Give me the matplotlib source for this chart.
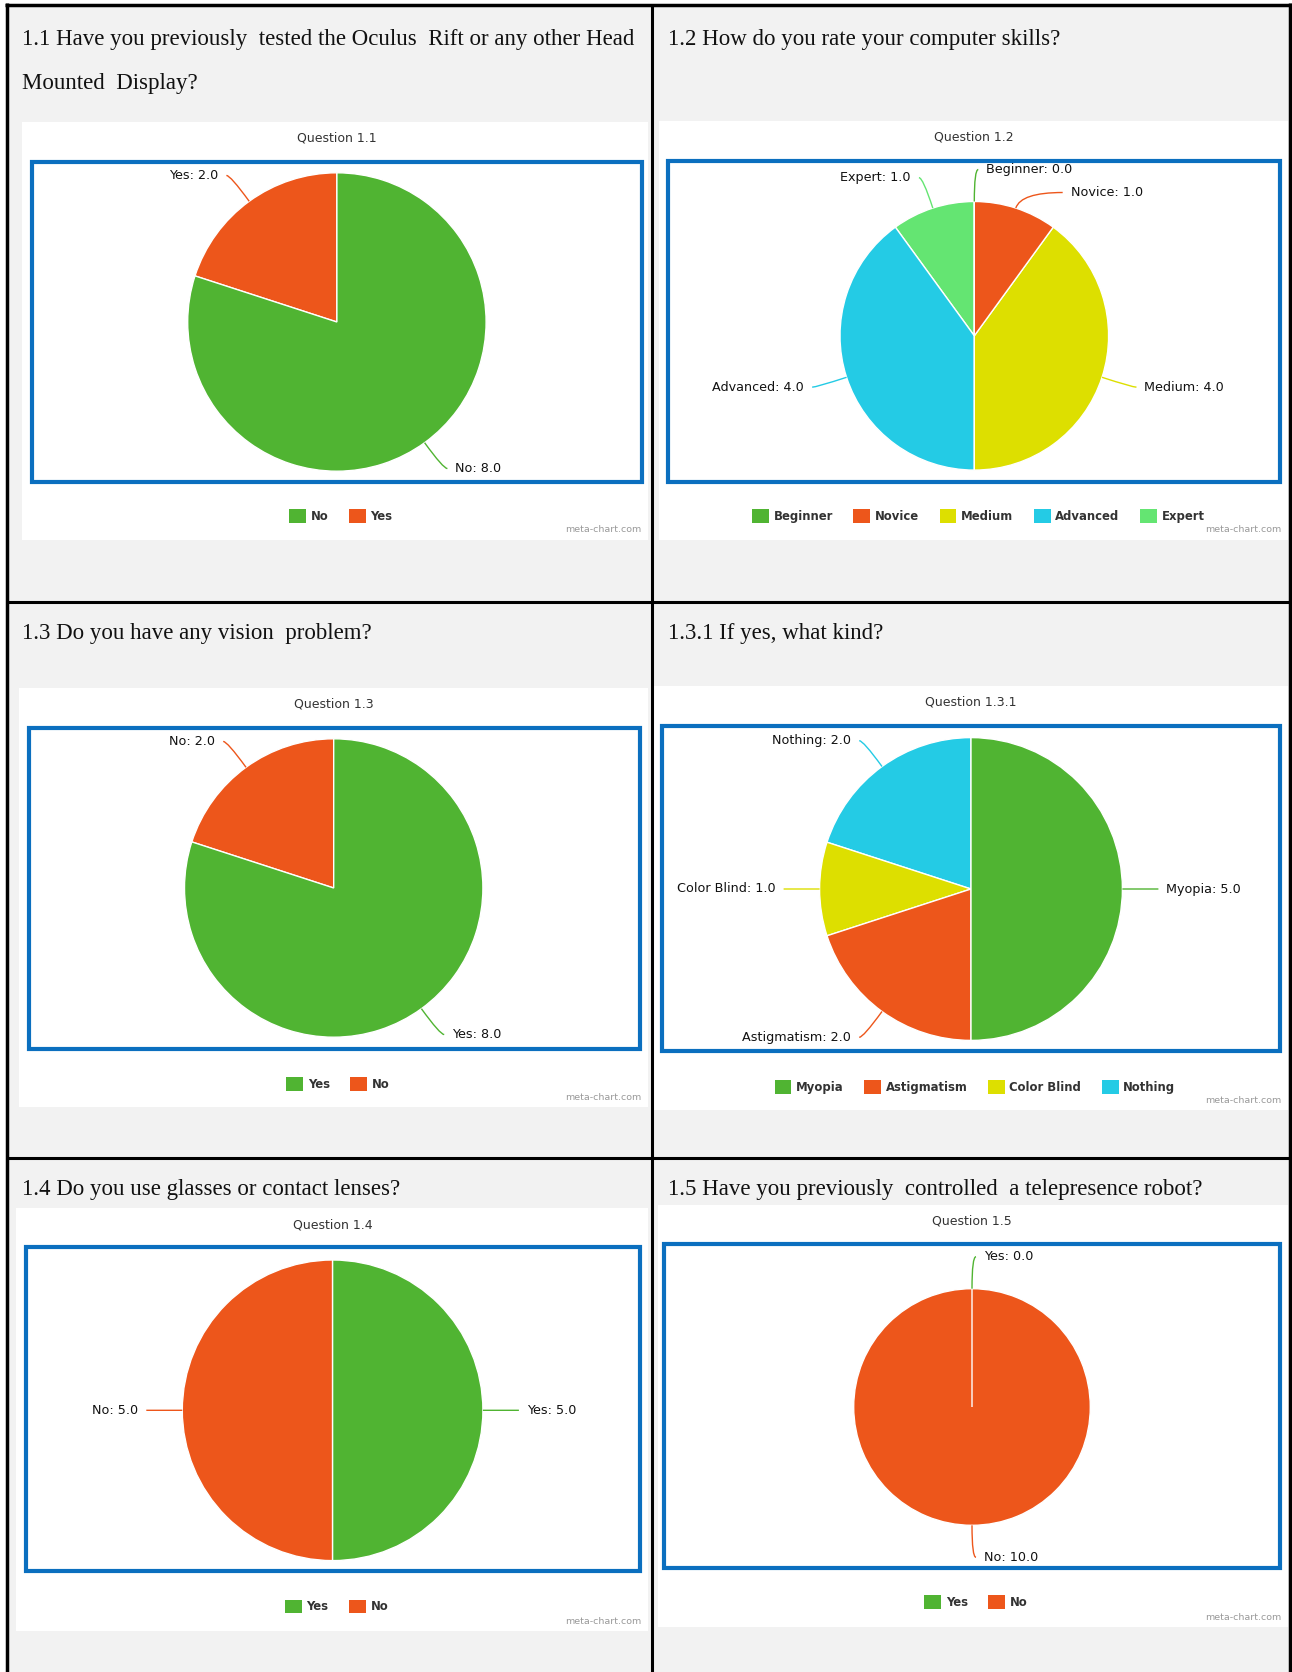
import numpy as np
import matplotlib
matplotlib.use("Agg")
import matplotlib.pyplot as plt
from matplotlib.patches import Rectangle, Patch, PathPatch
from matplotlib.path import Path

W, H = 1292, 1672

# ---------------- data ----------------
q11_labels = ["No", "Yes"]
q11_values = [8, 2]
q12_labels = ["Beginner", "Novice", "Medium", "Advanced", "Expert"]
q12_values = [0, 1, 4, 4, 1]
q13_labels = ["Yes", "No"]
q13_values = [8, 2]
q131_labels = ["Myopia", "Astigmatism", "Color Blind", "Nothing"]
q131_values = [5, 2, 1, 2]
q14_labels = ["Yes", "No"]
q14_values = [5, 5]
q15_labels = ["Yes", "No"]
q15_values = [0, 10]

headers = [
    ["1.1 Have you previously  tested the Oculus  Rift or any other Head", "Mounted  Display?"],
    ["1.2 How do you rate your computer skills?"],
    ["1.3 Do you have any vision  problem?"],
    ["1.3.1 If yes, what kind?"],
    ["1.4 Do you use glasses or contact lenses?"],
    ["1.5 Have you previously  controlled  a telepresence robot?"],
]
chart_titles = ["Question 1.1", "Question 1.2", "Question 1.3",
                "Question 1.3.1", "Question 1.4", "Question 1.5"]
all_labels = [q11_labels, q12_labels, q13_labels, q131_labels, q14_labels, q15_labels]
all_values = [q11_values, q12_values, q13_values, q131_values, q14_values, q15_values]

palette = ["#50B432", "#ED561B", "#DDDF00", "#24CBE5", "#64E572"]

# ---------------- layout (pixel coords, y down) ----------------
panels = [
    dict(white=(22.4, 121.5, 648, 539.5), box=(32, 162, 641.7, 482), center=(336.9, 322), r=149.2,
         legend_y=516, head_x=22.4, head_y=[45, 89.5]),
    dict(white=(659, 120.5, 1288, 539.5), box=(668.4, 160.5, 1280, 482), center=(974.3, 335.8), r=134.3,
         legend_y=516, head_x=668.4, head_y=[45]),
    dict(white=(19, 687.6, 648, 1106.6), box=(28.8, 728, 639.6, 1049), center=(333.7, 888), r=149.2,
         legend_y=1084, head_x=22.4, head_y=[639.5]),
    dict(white=(653, 685.5, 1288, 1109.7), box=(662, 726, 1280, 1051), center=(971, 889), r=151.4,
         legend_y=1087, head_x=668.4, head_y=[639.5]),
    dict(white=(16, 1208, 648, 1631), box=(25.6, 1247, 639.6, 1571), center=(332.6, 1410.3), r=150.3,
         legend_y=1606.5, head_x=22.4, head_y=[1194.5]),
    dict(white=(657.7, 1204.6, 1288, 1626.8), box=(664, 1244, 1280, 1568), center=(972, 1407), r=118.3,
         legend_y=1602, head_x=668.4, head_y=[1194.5]),
]

fig = plt.figure(figsize=(W / 100, H / 100), dpi=100)
fig.patch.set_facecolor("white")
ax = fig.add_axes([0, 0, 1, 1])


def Y(y):
    return H - y


# grey table background
ax.add_patch(Rectangle((6.5, Y(H)), 1290 - 6.5, H - 5, facecolor="#F2F2F2", edgecolor="none", zorder=0))

for i, p in enumerate(panels):
    x0, y0, x1, y1 = p["white"]
    ax.add_patch(Rectangle((x0, Y(y1)), x1 - x0, y1 - y0, facecolor="white", edgecolor="none", zorder=1))
    bx0, by0, bx1, by1 = p["box"]
    ax.add_patch(Rectangle((bx0, Y(by1)), bx1 - bx0, by1 - by0, facecolor="none",
                           edgecolor="#0B6FBF", linewidth=3.0, zorder=2))
    # header
    for line, hy in zip(headers[i], p["head_y"]):
        ax.text(p["head_x"], Y(hy), line, fontsize=16.5, family="Liberation Serif",
                color="#111111", ha="left", va="baseline", zorder=5)
    cx, cy = p["center"]
    # chart title
    ax.text(cx, Y(y0 + 16.5), chart_titles[i], fontsize=9, color="#333333",
            ha="center", va="center", zorder=5)
    # watermark
    ax.text(x1 - 7, Y(y1 - 9.5), "meta-chart.com", fontsize=6.8, color="#999999",
            ha="right", va="center", zorder=5)

    labels = all_labels[i]
    values = all_values[i]
    colors = palette[:len(values)]
    r = p["r"]
    wedges, _ = ax.pie(values, colors=colors, startangle=90, counterclock=False,
                       center=(cx, Y(cy)), radius=r,
                       wedgeprops=dict(edgecolor="white", linewidth=1.0))
    n = len(wedges)
    for k, w in enumerate(wedges):
        w.set_zorder(3 + (n - k) * 0.01)

    # data labels with connectors
    R = r + 32
    items = []
    for w, lab, val, col in zip(wedges, labels, values, colors):
        mid = np.deg2rad((w.theta1 + w.theta2) / 2.0)
        c, s = np.cos(mid), np.sin(mid)
        side = 1 if c > -1e-6 else -1
        items.append(dict(c=c, s=s, side=side, y=cy - R * s, lab=lab, val=val, col=col))
    for sd in (1, -1):
        grp = sorted([it for it in items if it["side"] == sd], key=lambda it: it["y"])
        for k in range(1, len(grp)):
            if grp[k]["y"] < grp[k - 1]["y"] + 23:
                grp[k]["y"] = grp[k - 1]["y"] + 23
    for it in items:
        c, s, sd, ly = it["c"], it["s"], it["side"], it["y"]
        dy = ly - cy
        lx = cx + sd * np.sqrt(max(R * R - dy * dy, 0.0))
        P = (cx + r * c, cy - r * s)
        S = (lx + sd * 4, ly)
        if abs(s) > 0.1:
            t = max((P[1] - ly) / s, 0.0)
            Cx = P[0] + t * c
            lo, hi = min(P[0], S[0]), max(P[0], S[0])
            Cx = min(max(Cx, lo), hi)
            C = (Cx, ly)
        else:
            C = ((P[0] + S[0]) / 2, (P[1] + S[1]) / 2)
        path = Path([(P[0], Y(P[1])), (C[0], Y(C[1])), (S[0], Y(S[1]))],
                    [Path.MOVETO, Path.CURVE3, Path.CURVE3])
        ax.add_patch(PathPatch(path, facecolor="none", edgecolor=it["col"], linewidth=1.0, zorder=4))
        ax.text(lx + sd * 12, Y(ly), f"{it['lab']}: {it['val']:.1f}", fontsize=9.2,
                color="#111111", ha="left" if sd == 1 else "right", va="center", zorder=5)

    # legend
    handles = [Patch(facecolor=col, edgecolor="none") for col in colors]
    fig.legend(handles, labels, loc="center", bbox_to_anchor=((cx + 4) / W, 1 - p["legend_y"] / H),
               bbox_transform=fig.transFigure, ncol=len(labels), frameon=False,
               prop=dict(size=8.4, weight="bold"), labelcolor="#333333",
               handlelength=1.45, handleheight=1.45, handletextpad=0.4,
               columnspacing=1.75, borderpad=0, borderaxespad=0)

# table borders
lk = dict(color="black", zorder=10, solid_capstyle="butt")
ax.plot([6.5, 6.5], [Y(3.2), Y(H)], linewidth=2.5, **lk)
ax.plot([1290, 1290], [Y(3.2), Y(H)], linewidth=2.5, **lk)
ax.plot([4.7, 1291.8], [Y(5), Y(5)], linewidth=2.5, **lk)
ax.plot([651.5, 651.5], [Y(5), Y(H)], linewidth=2.2, **lk)
ax.plot([6.5, 1290], [Y(602), Y(602)], linewidth=2.2, **lk)
ax.plot([6.5, 1290], [Y(1158), Y(1158)], linewidth=2.2, **lk)

ax.set_aspect("auto")
ax.set_xlim(0, W)
ax.set_ylim(0, H)
ax.axis("off")

fig.savefig("out.png", dpi=100, facecolor="white")
